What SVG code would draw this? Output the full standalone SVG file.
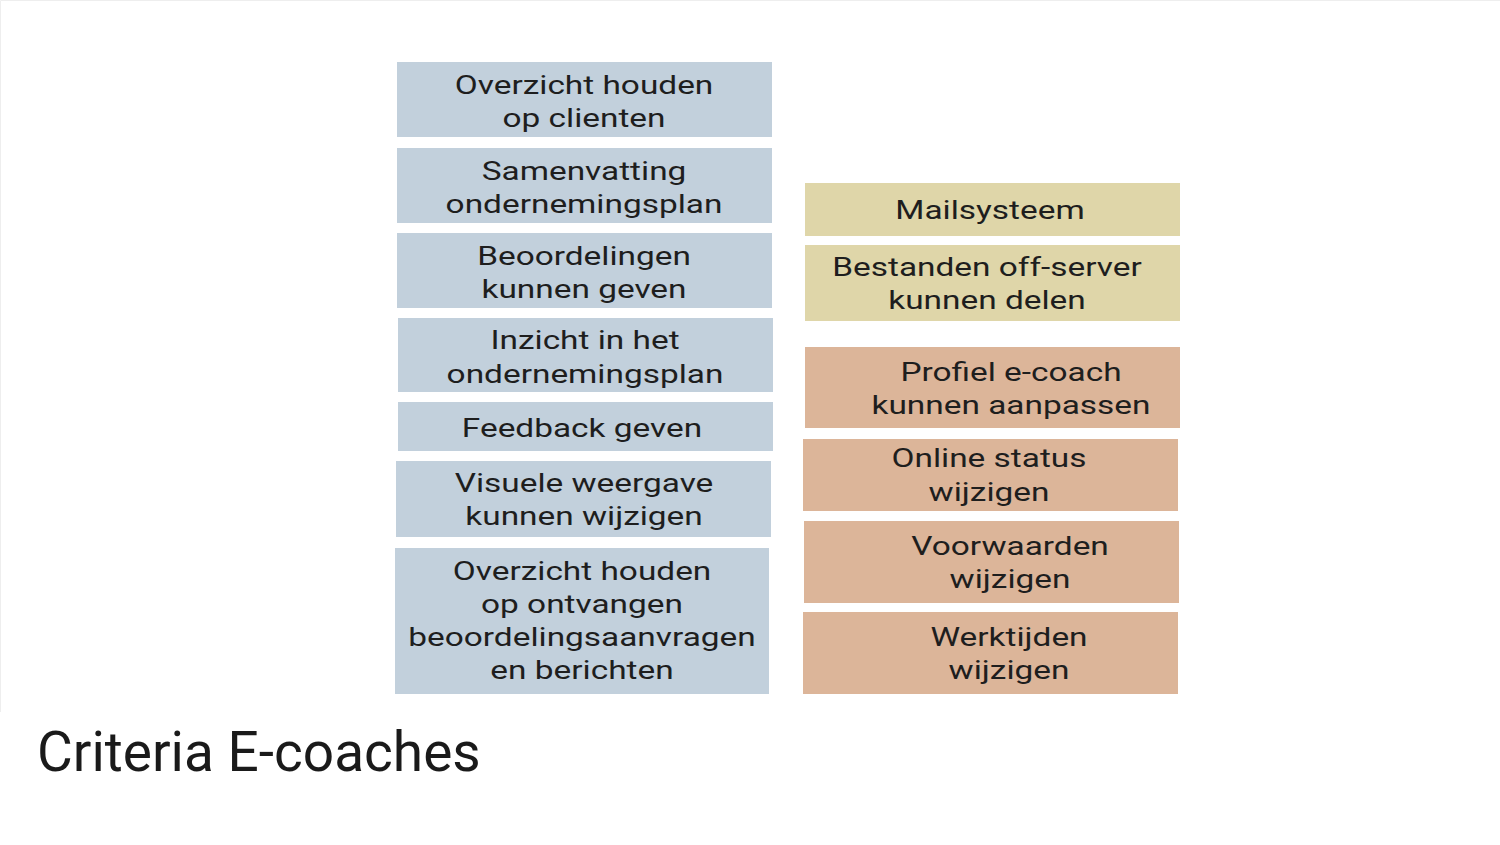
<svg xmlns="http://www.w3.org/2000/svg" width="1500" height="845" viewBox="0 0 1500 845">
  <style>
    .blue { fill: #c2d0dc; }
    .sand { fill: #dfd6a9; }
    .peach { fill: #dcb599; }
    .lbl { font-family: Roboto, "Liberation Sans", sans-serif; font-size: 25.5px; fill: #1e1e1e; text-anchor: middle; }
    .title { font-family: Roboto, "Liberation Sans", sans-serif; font-size: 55px; fill: #1a1a1a; }
  </style>
  <rect x="0" y="0" width="1500" height="845" fill="#ffffff"/>
  <!-- faint frame of the figure panel -->
  <path d="M0.5 712 V0.5 H1500" fill="none" stroke="#eeeeee" stroke-width="1"/>

  <!-- left column -->
  <g id="n-overzicht-clienten">
    <rect class="blue" x="397" y="62" width="375" height="75"/>
    <g transform="translate(584 -1) scale(1.31 1)">
      <text class="lbl" x="0" y="95">Overzicht houden</text>
      <text class="lbl" x="0" y="128">op clienten</text>
    </g>
  </g>
  <g id="n-samenvatting">
    <rect class="blue" x="397" y="148" width="375" height="75"/>
    <g transform="translate(584 -1) scale(1.31 1)">
      <text class="lbl" x="0" y="181">Samenvatting</text>
      <text class="lbl" x="0" y="214">ondernemingsplan</text>
    </g>
  </g>
  <g id="n-beoordelingen">
    <rect class="blue" x="397" y="233" width="375" height="75"/>
    <g transform="translate(584 -1) scale(1.31 1)">
      <text class="lbl" x="0" y="266">Beoordelingen</text>
      <text class="lbl" x="0" y="299">kunnen geven</text>
    </g>
  </g>
  <g id="n-inzicht">
    <rect class="blue" x="398" y="318" width="375" height="74"/>
    <g transform="translate(585 -1) scale(1.31 1)">
      <text class="lbl" x="0" y="350">Inzicht in het</text>
      <text class="lbl" x="0" y="384">ondernemingsplan</text>
    </g>
  </g>
  <g id="n-feedback">
    <rect class="blue" x="398" y="402" width="375" height="49"/>
    <g transform="translate(582 -1) scale(1.31 1)">
      <text class="lbl" x="0" y="438">Feedback geven</text>
    </g>
  </g>
  <g id="n-visuele-weergave">
    <rect class="blue" x="396" y="461" width="375" height="76"/>
    <g transform="translate(584 -1) scale(1.31 1)">
      <text class="lbl" x="0" y="493">Visuele weergave</text>
      <text class="lbl" x="0" y="526">kunnen wijzigen</text>
    </g>
  </g>
  <g id="n-overzicht-aanvragen">
    <rect class="blue" x="395" y="548" width="374" height="146"/>
    <g transform="translate(582 -1) scale(1.31 1)">
      <text class="lbl" x="0" y="581">Overzicht houden</text>
      <text class="lbl" x="0" y="614">op ontvangen</text>
      <text class="lbl" x="0" y="647">beoordelingsaanvragen</text>
      <text class="lbl" x="0" y="680">en berichten</text>
    </g>
  </g>

  <!-- right column -->
  <g id="n-mailsysteem">
    <rect class="sand" x="805" y="183" width="375" height="53"/>
    <g transform="translate(990 -1) scale(1.31 1)">
      <text class="lbl" x="0" y="220">Mailsysteem</text>
    </g>
  </g>
  <g id="n-bestanden">
    <rect class="sand" x="805" y="245" width="375" height="76"/>
    <g transform="translate(987 -1) scale(1.31 1)">
      <text class="lbl" x="0" y="277">Bestanden off-server</text>
      <text class="lbl" x="0" y="310">kunnen delen</text>
    </g>
  </g>
  <g id="n-profiel">
    <rect class="peach" x="805" y="347" width="375" height="81"/>
    <g transform="translate(1011 -1) scale(1.31 1)">
      <text class="lbl" x="0" y="382">Profiel e-coach</text>
      <text class="lbl" x="0" y="415">kunnen aanpassen</text>
    </g>
  </g>
  <g id="n-online-status">
    <rect class="peach" x="803" y="439" width="375" height="72"/>
    <g transform="translate(989 -1) scale(1.31 1)">
      <text class="lbl" x="0" y="468">Online status</text>
      <text class="lbl" x="0" y="502">wijzigen</text>
    </g>
  </g>
  <g id="n-voorwaarden">
    <rect class="peach" x="804" y="521" width="375" height="82"/>
    <g transform="translate(1010 -1) scale(1.31 1)">
      <text class="lbl" x="0" y="556">Voorwaarden</text>
      <text class="lbl" x="0" y="589">wijzigen</text>
    </g>
  </g>
  <g id="n-werktijden">
    <rect class="peach" x="803" y="612" width="375" height="82"/>
    <g transform="translate(1009 -1) scale(1.31 1)">
      <text class="lbl" x="0" y="647">Werktijden</text>
      <text class="lbl" x="0" y="680">wijzigen</text>
    </g>
  </g>

  <g id="connectors"></g>

  <text class="title" x="37" y="771">Criteria E-coaches</text>
</svg>
